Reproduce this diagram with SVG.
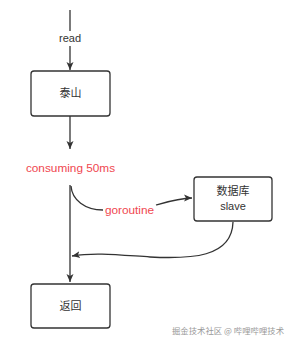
<svg xmlns="http://www.w3.org/2000/svg" width="295" height="345" viewBox="0 0 295 345">
<defs>
<marker id="arr" markerWidth="10" markerHeight="10" refX="8" refY="5" orient="auto" markerUnits="userSpaceOnUse">
<path d="M0,1.5 L8,5 L0,8.5 L2,5 Z" fill="#333"/>
</marker>
<style>
.box{fill:#fff;stroke:#333;stroke-width:1.3}
.ln{fill:none;stroke:#333;stroke-width:1.3}
.t{font-family:"Liberation Sans","Noto Sans CJK SC",sans-serif;font-size:11px;fill:#333;text-anchor:middle}
.r{font-family:"Liberation Sans","Noto Sans CJK SC",sans-serif;font-size:11.8px;fill:#f0474f;text-anchor:middle}
.wm{font-family:"Noto Sans CJK SC",sans-serif;font-size:8.5px;fill:#999}
</style>
</defs>
<rect width="295" height="345" fill="#fff"/>
<g id="connectors">
<path class="ln" d="M70,10 V31"/>
<path class="ln" d="M70,46 V70" marker-end="url(#arr)"/>
<path class="ln" d="M70,116 V149" marker-end="url(#arr)"/>
<path class="ln" d="M70,185 V282" marker-end="url(#arr)"/>
<path class="ln" d="M71,186 C72,200 85,210 103,210"/>
<path class="ln" d="M156,205 C170,201 180,198 192,198" marker-end="url(#arr)"/>
<path class="ln" d="M233,222 C232,258 190,259 150,257 C120,255 95,252 72,256" marker-end="url(#arr)"/>
<text class="t" x="70" y="42">read</text>
<text class="r" x="70.5" y="172">consuming 50ms</text>
<text class="r" x="129.5" y="214">goroutine</text>
</g>
<g id="taishan">
<rect class="box" x="31" y="71" width="79" height="45" rx="3"/>
<text class="t" x="70.5" y="97">泰山</text>
</g>
<g id="db">
<rect class="box" x="194" y="177" width="78" height="44" rx="3"/>
<text class="t" x="233" y="195">数据库</text>
<text class="t" x="233" y="210">slave</text>
</g>
<g id="return">
<rect class="box" x="31" y="284" width="79" height="44" rx="3"/>
<text class="t" x="70.5" y="310">返回</text>
</g>
<text class="wm" x="172" y="334" textLength="112" lengthAdjust="spacingAndGlyphs">掘金技术社区 @ 哔哩哔哩技术</text>
</svg>
